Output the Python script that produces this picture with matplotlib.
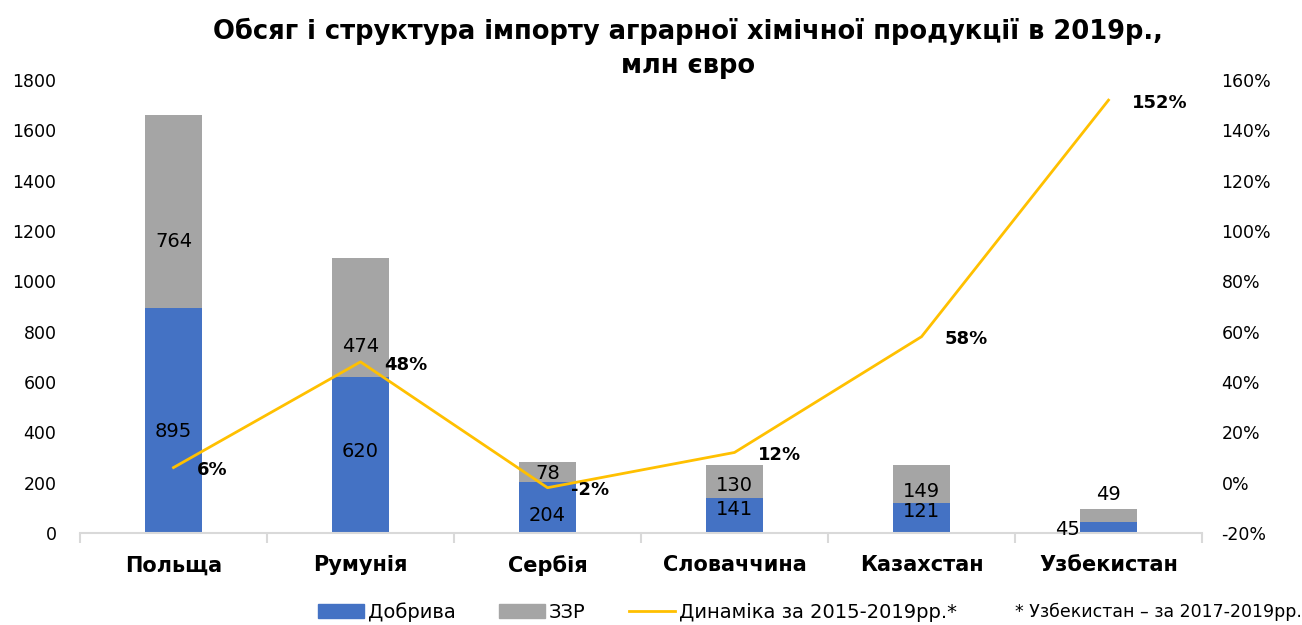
import matplotlib
matplotlib.use('Agg')
import matplotlib.pyplot as plt
from matplotlib.patches import Patch
from matplotlib.lines import Line2D
from matplotlib.ticker import FuncFormatter, MultipleLocator
import numpy as np

plt.rcParams['font.family'] = ['DejaVu Sans']

# data
countries = ['Польща', 'Румунія', 'Сербія', 'Словаччина', 'Казахстан', 'Узбекистан']
dobryva = [895, 620, 204, 141, 121, 45]
zzr = [764, 474, 78, 130, 149, 49]
dynamics = [6, 48, -2, 12, 58, 152]

# label placement (data units)
dob_lbl_y = [402, 322, 71, 94, 87, 13]
zzr_lbl_y = [1159, 743, 238, 188, 164, 154]

blue = '#4472C4'
gray = '#A5A5A5'
yellow = '#FFC000'

fig = plt.figure(figsize=(13.02, 6.25), dpi=100)
ax = fig.add_axes([80 / 1302, 1 - 533 / 625, 1122 / 1302, 453 / 625])
ax2 = ax.twinx()

x = np.arange(len(countries))
w = 0.31
ax.bar(x, dobryva, w, color=blue, zorder=2)
ax.bar(x, zzr, w, bottom=dobryva, color=gray, zorder=2)

for i in range(len(countries)):
    if i == len(countries) - 1:
        ax.text(x[i] - w / 2, dob_lbl_y[i], str(dobryva[i]), ha='right', va='center', fontsize=14)
    else:
        ax.text(x[i], dob_lbl_y[i], str(dobryva[i]), ha='center', va='center', fontsize=14)
    ax.text(x[i], zzr_lbl_y[i], str(zzr[i]), ha='center', va='center', fontsize=14)

ax.set_xlim(-0.5, len(countries) - 0.5)
ax.set_ylim(0, 1800)
ax.yaxis.set_major_locator(MultipleLocator(200))
ax.set_xticks(x)
ax.set_xticklabels(countries, fontsize=15, fontweight='bold')
ax.set_xticks(np.arange(-0.5, len(countries)), minor=True)
ax.tick_params(axis='x', which='major', length=0, pad=16)
ax.tick_params(axis='x', which='minor', length=7, color='#D9D9D9', width=1.5)
ax.tick_params(axis='y', length=0, labelsize=12.5, pad=17)

ax2.plot(x, dynamics, color=yellow, lw=2, zorder=3)
for i in range(len(countries)):
    ax2.annotate(f'{dynamics[i]}%', (x[i], dynamics[i]), xytext=(17, -2),
                 textcoords='offset points', ha='left', va='center',
                 fontsize=13, fontweight='bold')
ax2.set_ylim(-20, 160)
ax2.yaxis.set_major_locator(MultipleLocator(20))
ax2.yaxis.set_major_formatter(FuncFormatter(lambda v, p: f'{v:.0f}%'))
ax2.tick_params(axis='y', length=0, labelsize=12.5, pad=14)

for a in (ax, ax2):
    for s in ('top', 'left', 'right'):
        a.spines[s].set_visible(False)
    a.spines['bottom'].set_color('#D9D9D9')
    a.spines['bottom'].set_linewidth(1.5)
ax2.spines['bottom'].set_visible(False)

fig.text(688 / 1302, 1 - 18 / 625,
         'Обсяг і структура імпорту аграрної хімічної продукції в 2019р.,\nмлн євро',
         ha='center', va='top', fontsize=18.5, fontweight='bold', linespacing=1.4)

handles = [Patch(color=blue), Patch(color=gray), Line2D([0], [0], color=yellow, lw=2)]
labels = ['Добрива', 'ЗЗР', 'Динаміка за 2015-2019рр.*']
fig.legend(handles, labels, loc='center left', bbox_to_anchor=(300 / 1302, 1 - 612 / 625),
           ncol=3, frameon=False, fontsize=14, handlelength=2.4, handleheight=0.7,
           columnspacing=2.2, handletextpad=0.2)
fig.text(1015 / 1302, 1 - 612 / 625, '* Узбекистан – за 2017-2019рр.', ha='left', va='center',
         fontsize=12.5)

fig.savefig('out.png', dpi=100)
